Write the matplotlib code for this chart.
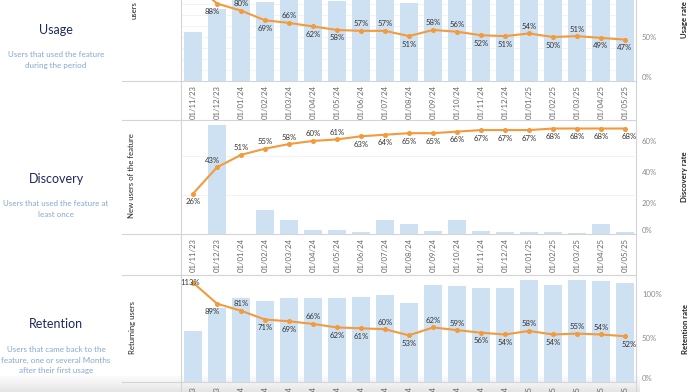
import numpy as np
import matplotlib.pyplot as plt
from matplotlib.lines import Line2D

plt.rcParams['font.family'] = ['Lato', 'DejaVu Sans']

dates = ['01/11/23', '01/12/23', '01/01/24', '01/02/24', '01/03/24', '01/04/24',
         '01/05/24', '01/06/24', '01/07/24', '01/08/24', '01/09/24', '01/10/24',
         '01/11/24', '01/12/24', '01/01/25', '01/02/25', '01/03/25', '01/04/25',
         '01/05/25']

# Usage
usage_users = [89, 131, 160, 144, 158, 152, 145, 155, 162, 142, 175, 170,
               166, 163, 178, 171, 180, 178, 173]
usage_rate = [112, 88, 80, 69, 66, 62, 58, 57, 57, 51, 58, 56, 52, 51, 54, 50, 51, 49, 47]
# first label sits above the visible area in the screenshot
usage_pos = [None, 'bl', 'a', 'b', 'a', 'b', 'b', 'a', 'a', 'b', 'a', 'a', 'b', 'b',
             'a', 'b', 'a', 'b', 'b']

# Discovery
new_users = [0, 280, 0, 62, 36, 10, 10, 5, 36, 26, 8, 36, 8, 5, 5, 5, 3, 26, 5]
discovery_rate = [26, 43, 51, 55, 58, 60, 61, 63, 64, 65, 65, 66, 67, 67, 67, 68, 68, 68, 68]
discovery_pos = ['b', 'al', 'a', 'a', 'a', 'a', 'a', 'b', 'b', 'b', 'b', 'b', 'b', 'b',
                 'b', 'b', 'b', 'b', 'br']

# Retention
returning_users = [61, 89, 101, 97, 101, 101, 100, 102, 104, 94, 116, 115, 113, 112,
                   122, 116, 122, 121, 119]
retention_rate = [113, 89, 81, 71, 69, 66, 62, 61, 60, 53, 62, 59, 56, 54, 58, 54, 55, 54, 52]
retention_pos = ['c', 'bl', 'a', 'b', 'b', 'a', 'b', 'b', 'a', 'b', 'a', 'a', 'b', 'b',
                 'a', 'b', 'a', 'a', 'br']

BAR = '#cde1f3'
LINE = '#f39a3c'
GRID = '#d4d4d4'
TITLE = '#1c2a5e'
SUB = '#86a7d0'

W, H = 700, 392
fig = plt.figure(figsize=(7, 3.92), dpi=100)


def px_rect(x0, y0, x1, y1):
    return [x0 / W, 1 - y1 / H, (x1 - x0) / W, (y1 - y0) / H]


def hline(y, x0=122, x1=636):
    fig.add_artist(Line2D([x0 / W, x1 / W], [1 - y / H, 1 - y / H],
                          transform=fig.transFigure, color=GRID, lw=0.8))


def vline(x, y0=0, y1=392):
    fig.add_artist(Line2D([x / W, x / W], [1 - y0 / H, 1 - y1 / H],
                          transform=fig.transFigure, color=GRID, lw=0.8))


offsets = {'a': (0, 7), 'b': (0, -8), 'bl': (-5, -8), 'al': (-5, 7),
           'br': (4, -8), 'c': (-3, 0)}

# soft shadow along the bottom of the screenshot
shade = fig.add_axes(px_rect(0, 376, 640, 392), zorder=-1)
grad = np.linspace(0, 1, 50).reshape(-1, 1)
shade.imshow(grad, aspect='auto', cmap='Greys', vmin=-0.2, vmax=6, extent=[0, 1, 0, 1])
shade.axis('off')


def panel(y_top, y_bottom, bars, bar_max, bar_grid, rates, rate_max, rate_ticks, pos):
    x = np.arange(len(dates))
    ax = fig.add_axes(px_rect(181, y_top, 635, y_bottom))
    ax.patch.set_alpha(0)
    ax.bar(x, bars, width=0.78, color=BAR, zorder=2)
    ax.set_xlim(-0.5, 18.42)
    ax.set_ylim(0, bar_max)
    ax.set_xticks(x)
    ax.set_xticklabels(dates, rotation=90, fontsize=5.6, color='#666666')
    ax.tick_params(axis='x', length=0, pad=3)
    ax.set_yticks(bar_grid)
    ax.tick_params(axis='y', length=0, labelleft=False)
    ax.grid(axis='y', color='#f1f1f1', lw=0.6, zorder=0)
    for s in ax.spines.values():
        s.set_visible(False)

    ax2 = ax.twinx()
    ax2.plot(x, rates, color=LINE, lw=1.5, marker='o', ms=2.6, zorder=3)
    ax2.set_ylim(0, rate_max)
    ax2.set_yticks(rate_ticks)
    ax2.set_yticklabels([f'{t}%' for t in rate_ticks], fontsize=5.6, color='#8a8a8a')
    ax2.tick_params(axis='y', length=0, pad=5)
    ax2.get_yticklabels()[0].set_va('bottom')
    for s in ax2.spines.values():
        s.set_visible(False)
    for xi, r, p in zip(x, rates, pos):
        if p is None:
            continue
        ax2.annotate(f'{r}%', (xi, r), xytext=offsets[p], textcoords='offset pixels',
                     ha='center', va='center', fontsize=5.6, color='#333333')
    return ax


panel(-26, 81, usage_users, 194.5, [20, 40, 60, 80, 100, 120, 140],
      usage_rate, 121.6, [0, 50], usage_pos)
panel(120, 234, new_users, 292, [100, 200],
      discovery_rate, 73.5, [0, 20, 40, 60], discovery_pos)
panel(275, 382, returning_users, 128, [],
      retention_rate, 121.6, [0, 50, 100], retention_pos)

# frame lines
for y in [81, 120, 234, 275, 382]:
    hline(y)
vline(181)
vline(636)


def ftext(x, y, s, **kw):
    fig.text(x / W, 1 - y / H, s, **kw)


# axis titles
ftext(134, 10, 'users', rotation=90, ha='center', va='center', fontsize=5.6, color='#222222')
ftext(132, 176, 'New users of the feature', rotation=90, ha='center', va='center',
      fontsize=5.6, color='#222222')
ftext(132, 328, 'Returning users', rotation=90, ha='center', va='center',
      fontsize=5.6, color='#222222')
ftext(685, 20, 'Usage rate', rotation=90, ha='center', va='center', fontsize=5.6,
      color='#222222', fontweight='bold')
ftext(685, 177, 'Discovery rate', rotation=90, ha='center', va='center', fontsize=5.6,
      color='#222222', fontweight='bold')
ftext(685, 329, 'Retention rate', rotation=90, ha='center', va='center', fontsize=5.6,
      color='#222222', fontweight='bold')

# left side descriptions
ftext(56, 30, 'Usage', ha='center', va='center', fontsize=9, color=TITLE)
ftext(56, 60, 'Users that used the feature\nduring the period', ha='center', va='center',
      fontsize=5.8, color=SUB, linespacing=1.6)
ftext(56, 179, 'Discovery', ha='center', va='center', fontsize=9, color=TITLE)
ftext(56, 209, 'Users that used the feature at\nleast once', ha='center', va='center',
      fontsize=5.8, color=SUB, linespacing=1.6)
ftext(56, 324, 'Retention', ha='center', va='center', fontsize=9, color=TITLE)
ftext(56, 360, 'Users that came back to the\nfeature, one or several Months\nafter their first usage',
      ha='center', va='center', fontsize=5.8, color=SUB, linespacing=1.6)

fig.savefig('out.png', dpi=100)
